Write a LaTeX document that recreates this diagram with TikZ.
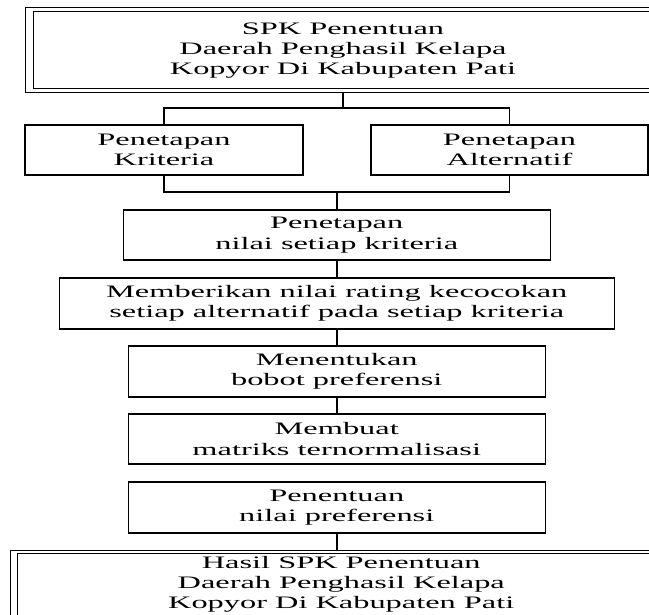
\documentclass[tikz,border=0pt]{standalone}
\usepackage{fontspec}
\setmainfont{Liberation Serif}[FakeStretch=1.85]
\usetikzlibrary{positioning, fit, calc}

\begin{document}
\begin{tikzpicture}[
        proses/.style = {
            rectangle,
            draw,
            line width=1.4pt,
            outer sep=0pt,
            align = center,
            font = \fontsize{17.5}{20.5}\selectfont,
            minimum width=417pt,
            minimum height=51pt
        },
        judul/.style = {
            rectangle,
            draw,
            line width=1pt,
            outer sep=0pt,
            align = center,
            font = \fontsize{17.5}{20}\selectfont
        },
        bingkai/.style 2 args={
            draw,
            line width=1pt,
            outer sep=0pt,
            inner xsep=#1,
            inner ysep=#2},
        garis/.style = {line width=1.6pt}
        ]

        \useasboundingbox (0,0) rectangle (649pt,-615pt);
        \clip (0,0) rectangle (649pt,-615pt);

        \node (spk_judul) [judul, minimum width=620pt, minimum height=77pt] at (343pt,-50.5pt) {SPK Penentuan\\Daerah Penghasil Kelapa\\Kopyor Di Kabupaten Pati};
        \node[bingkai={8pt}{4pt}, fit=(spk_judul)] (spk_luar) {};

        \node (kriteria) [proses, minimum width=278pt, minimum height=50pt, below=32pt of spk_luar.south west, anchor=north west] {Penetapan\\Kriteria};
        \node (alternatif) [proses, minimum width=277pt, minimum height=50pt, right=68pt of kriteria] {Penetapan\\Alternatif};

        \node (nilai) [proses, minimum width=427pt, minimum height=50pt, below=35pt of $(kriteria.south)!0.5!(alternatif.south)$] {Penetapan\\nilai setiap kriteria};
        \node (rating) [proses, minimum width=555pt, below=18pt of nilai] {Memberikan nilai rating kecocokan\\setiap alternatif pada setiap kriteria};
        \node (bobot) [proses, below=17pt of rating] {Menentukan\\bobot preferensi};
        \node (matriks) [proses, minimum height=50pt, below=17pt of bobot] {Membuat\\matriks ternormalisasi};
        \node (preferensi) [proses, below=18pt of matriks] {Penentuan\\nilai preferensi};

        \node (hasil_judul) [judul, minimum width=648pt, minimum height=61pt, below=20pt of preferensi, xshift=4.5pt] {Hasil SPK Penentuan\\Daerah Penghasil Kelapa\\Kopyor Di Kabupaten Pati};
        \node[bingkai={7pt}{3pt}, fit=(hasil_judul)] (hasil_luar) {};

        \coordinate (cabang_atas) at ($(spk_luar.south)+(0,-15pt)$);
        \coordinate (cabang_bawah) at ($(nilai.north)+(0,18pt)$);

        \draw[garis] (spk_luar.south) -- (cabang_atas);
        \draw[garis] (kriteria.north) |- (cabang_atas) -| (alternatif.north);
        \draw[garis] (kriteria.south) |- (cabang_bawah) -| (alternatif.south);
        \draw[garis] (cabang_bawah) -- (nilai.north);
        \draw[garis] (nilai) -- (rating);
        \draw[garis] (rating) -- (bobot);
        \draw[garis] (bobot) -- (matriks);
        \draw[garis] (preferensi.south) -- (preferensi.south |- hasil_luar.north);

    \end{tikzpicture}
\end{document}
